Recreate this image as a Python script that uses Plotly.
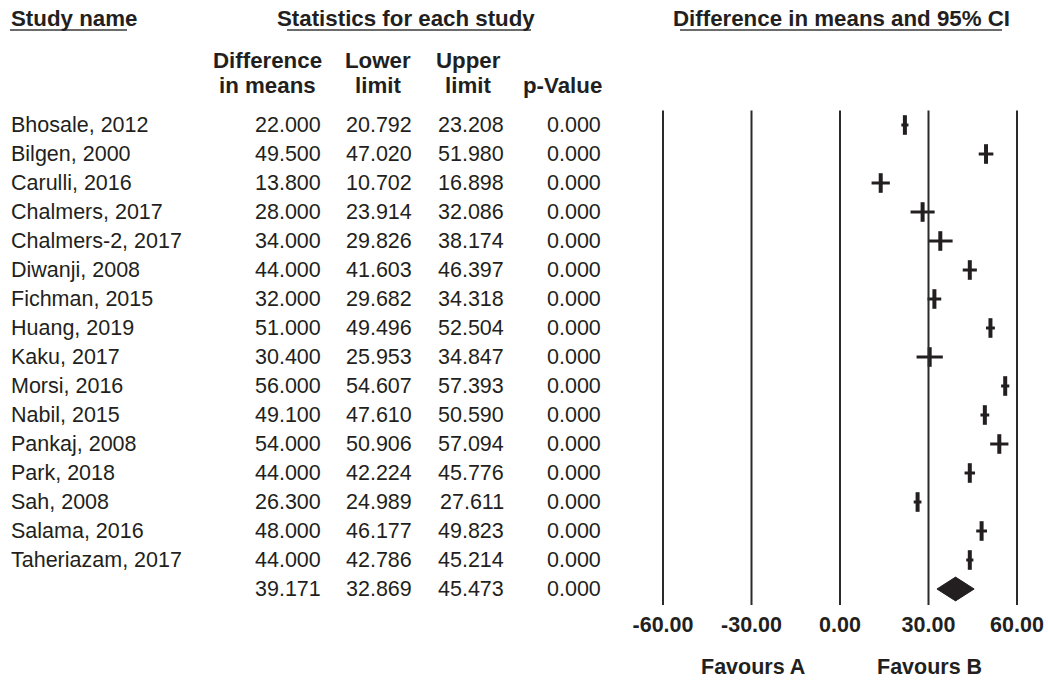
import plotly.graph_objects as go

studies = ["Bhosale, 2012", "Bilgen, 2000", "Carulli, 2016", "Chalmers, 2017",
           "Chalmers-2, 2017", "Diwanji, 2008", "Fichman, 2015", "Huang, 2019",
           "Kaku, 2017", "Morsi, 2016", "Nabil, 2015", "Pankaj, 2008", "Park, 2018",
           "Sah, 2008", "Salama, 2016", "Taheriazam, 2017"]
diff = [22.000, 49.500, 13.800, 28.000, 34.000, 44.000, 32.000, 51.000,
        30.400, 56.000, 49.100, 54.000, 44.000, 26.300, 48.000, 44.000]
lower = [20.792, 47.020, 10.702, 23.914, 29.826, 41.603, 29.682, 49.496,
         25.953, 54.607, 47.610, 50.906, 42.224, 24.989, 46.177, 42.786]
upper = [23.208, 51.980, 16.898, 32.086, 38.174, 46.397, 34.318, 52.504,
         34.847, 57.393, 50.590, 57.094, 45.776, 27.611, 49.823, 45.214]
pvals = [0.000] * 16
summary = {"diff": 39.171, "lower": 32.869, "upper": 45.473, "p": 0.000}
tick_vals = [-60, -30, 0, 30, 60]
tick_text = ["-60.00", "-30.00", "0.00", "30.00", "60.00"]

OFF = 0
W, H = 1048, 683
INK = "#231f20"
FONT = "Liberation Sans, Arial, sans-serif"
FS = 21.5
FSB = 22.3

X0PX, KPX = 840.0, 2.95          # x=0 at page pixel 840, 2.95 px per unit
ROW0PX, ROWPX = 125.0, 29.0      # first row center (page px), row spacing
BOTTOM_PX = 605.0                # bottom of plot area (page px)

xr = [-(X0PX - OFF) / KPX, (W - (X0PX - OFF)) / KPX]
yr = [(BOTTOM_PX - ROW0PX) / ROWPX, -(ROW0PX - OFF) / ROWPX]

def py(p):
    return 1 - (p - OFF) / H

def pxx(p):
    return (p - OFF) / W

fig = go.Figure()

n = len(studies)
cx, cy = [], []
for i in range(n):
    cx += [lower[i], upper[i], None]
    cy += [i, i, None]
fig.add_trace(go.Scatter(x=cx, y=cy, mode="lines",
                         line=dict(color=INK, width=3), hoverinfo="skip",
                         showlegend=False))
fig.add_trace(go.Scatter(x=diff, y=list(range(n)), mode="markers",
                         marker=dict(symbol="line-ns", size=14,
                                     line=dict(color=INK, width=4)),
                         showlegend=False))
sr = n
h = 0.41
fig.add_trace(go.Scatter(
    x=[summary["lower"], summary["diff"], summary["upper"], summary["diff"], summary["lower"]],
    y=[sr, sr - h, sr, sr + h, sr], mode="lines", fill="toself",
    fillcolor=INK, line=dict(color=INK, width=1), showlegend=False))

shapes = []
for v in tick_vals:
    shapes.append(dict(type="line", xref="x", yref="y", x0=v, x1=v,
                       y0=-0.5, y1=yr[0], line=dict(color="#2b2b2b", width=2)))

for x0, x1 in [(10, 127), (287, 531), (680, 1002)]:
    shapes.append(dict(type="line", xref="paper", yref="paper",
                       x0=pxx(x0), x1=pxx(x1), y0=py(30), y1=py(30),
                       line=dict(color="#3a3a3a", width=1.5)))

ann = []
def bold(text, xpx, ypx, anchor="center", size=FSB):
    ann.append(dict(text=text, x=pxx(xpx), y=py(ypx), xref="paper", yref="paper",
                    xanchor=anchor, yanchor="middle", showarrow=False,
                    font=dict(family=FONT, size=size, color=INK, weight="bold")))

bold("Study name", 9, 18, "left")
bold("Statistics for each study", 406, 18)
bold("Difference in means and 95% CI", 841, 18)
bold("Difference", 267, 60)
bold("in means", 267, 85)
bold("Lower", 378, 60)
bold("limit", 378, 85)
bold("Upper", 468, 60)
bold("limit", 468, 85)
bold("p-Value", 562, 85)
bold("Favours A", 753, 667, size=FS)
bold("Favours B", 929, 667, size=FS)

def cell(text, xpx, row, anchor):
    ann.append(dict(text=text, x=pxx(xpx), y=row, xref="paper", yref="y",
                    xanchor=anchor, yanchor="middle", showarrow=False,
                    font=dict(family=FONT, size=FS, color=INK)))

for i in range(n):
    cell(studies[i], 9, i, "left")
    cell(f"{diff[i]:.3f}", 323, i, "right")
    cell(f"{lower[i]:.3f}", 414, i, "right")
    cell(f"{upper[i]:.3f}", 506, i, "right")
    cell(f"{pvals[i]:.3f}", 603, i, "right")
cell(f"{summary['diff']:.3f}", 323, n, "right")
cell(f"{summary['lower']:.3f}", 414, n, "right")
cell(f"{summary['upper']:.3f}", 506, n, "right")
cell(f"{summary['p']:.3f}", 603, n, "right")

fig.update_layout(
    width=W, height=H, margin=dict(l=0, r=0, t=0, b=0),
    paper_bgcolor="white", plot_bgcolor="white",
    shapes=shapes, annotations=ann, showlegend=False,
    xaxis=dict(domain=[0, 1], range=xr, showgrid=False, zeroline=False,
               showline=False, ticks="", tickvals=tick_vals, ticktext=tick_text,
               tickfont=dict(family=FONT, size=FS, color=INK, weight="bold"),
               ticklabelstandoff=4, fixedrange=True),
    yaxis=dict(domain=[1 - (BOTTOM_PX - OFF) / H, 1], range=yr, showgrid=False,
               zeroline=False, showline=False, showticklabels=False,
               ticks="", fixedrange=True),
)

fig.write_html("out.html",
               config={"displayModeBar": False, "staticPlot": True},
               post_script="document.body.style.margin='0';document.body.style.overflow='hidden';")
